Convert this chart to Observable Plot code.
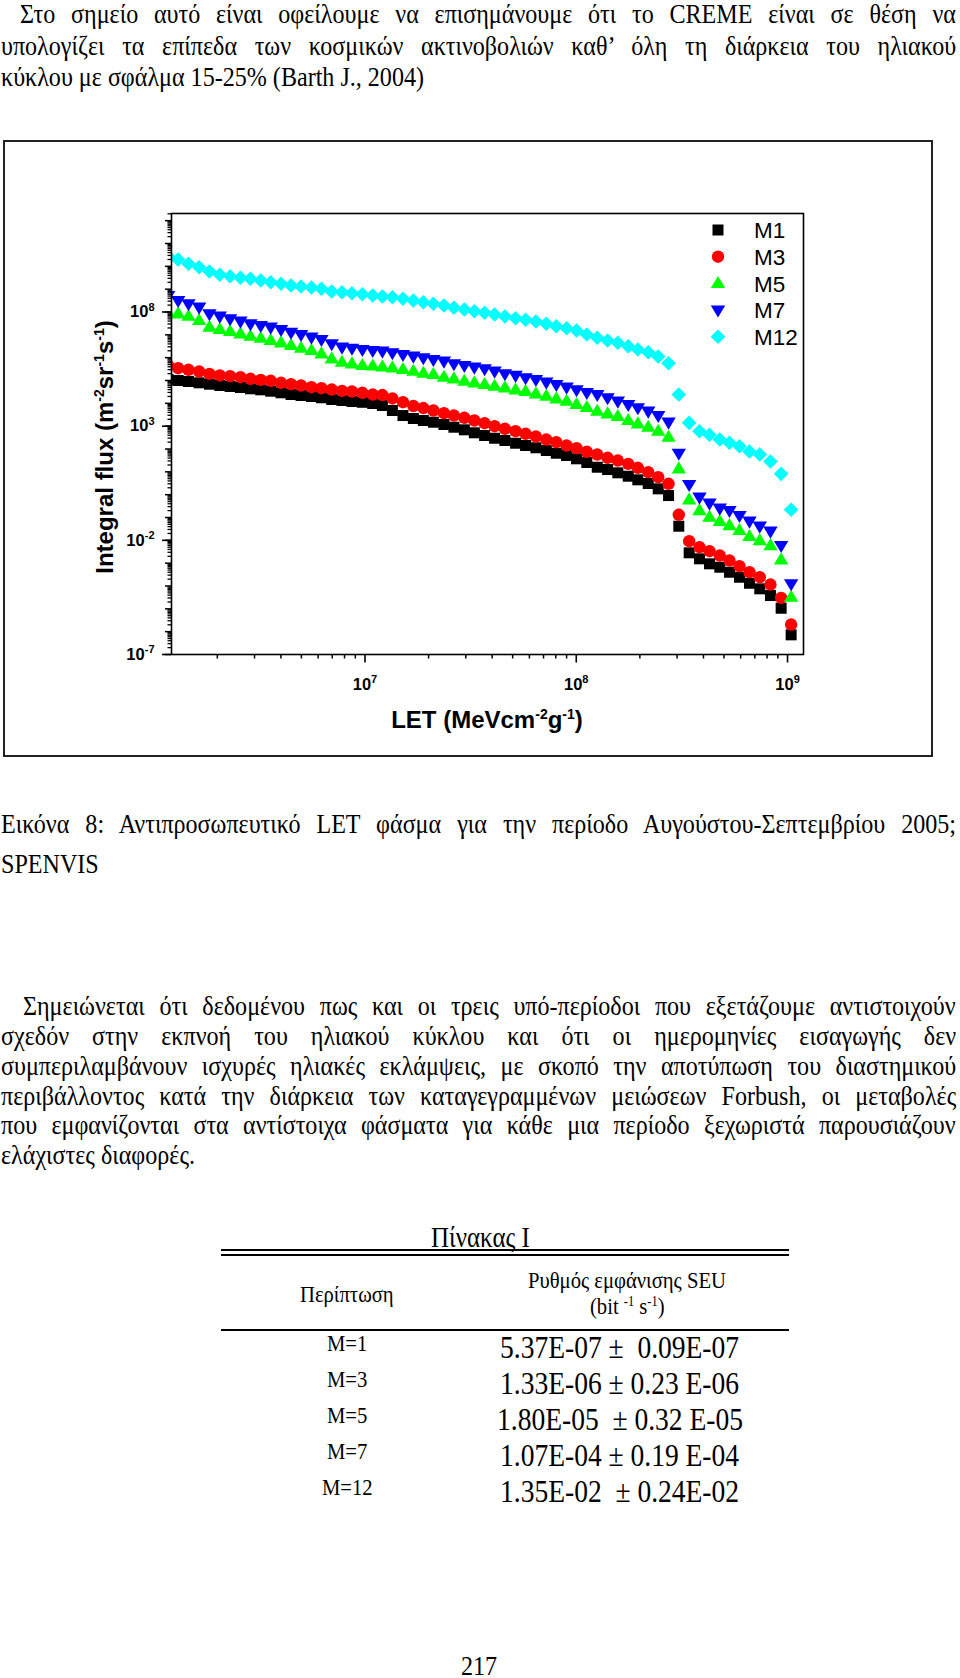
<!DOCTYPE html>
<html><head><meta charset="utf-8">
<script src="https://cdn.jsdelivr.net/npm/d3@7"></script>
<script src="https://cdn.jsdelivr.net/npm/@observablehq/plot@0.6"></script>
<style>
html,body{margin:0;padding:0;background:#fff;}
body{width:960px;height:1678px;position:relative;overflow:hidden;font-family:"Liberation Serif","Times New Roman",serif;color:#000;}
#page{position:absolute;left:0;top:0;width:960px;height:1678px;}
.ln{position:absolute;white-space:nowrap;transform-origin:0 0;color:#000;}
.pre{white-space:pre;}
.rule{position:absolute;background:#000;}
#chart{position:absolute;left:0;top:140px;width:960px;height:617px;}
#frame{position:absolute;left:3px;top:140px;width:930px;height:617px;box-sizing:border-box;border:2px solid #222;pointer-events:none;}
sup{font-size:0.6em;vertical-align:0.55em;line-height:0;}
</style></head><body>
<div id="page"></div>
<div id="chart"></div>
<div id="frame"></div>
<script>
// ---------- data ----------
const LET = [1.17e6,1.305e6,1.461e6,1.64e6,1.836e6,2.055e6,2.299e6,2.574e6,2.871e6,3.211e6,3.58e6,4.005e6,4.467e6,4.982e6,5.579e6,6.22e6,6.959e6,7.783e6,8.679e6,9.721e6,1.088e7,1.209e7,1.348e7,1.513e7,1.694e7,1.889e7,2.107e7,2.364e7,2.636e7,2.953e7,3.293e7,3.683e7,4.107e7,4.596e7,5.162e7,5.757e7,6.441e7,7.214e7,8.044e7,9.0e7,1.003e8,1.122e8,1.257e8,1.407e8,1.573e8,1.762e8,1.956e8,2.191e8,2.443e8,2.734e8,3.057e8,3.423e8,3.831e8,4.272e8,4.778e8,5.311e8,5.923e8,6.605e8,7.388e8,8.301e8,9.327e8,1.04e9];
const M1 = [1.10e5,1.00e5,9.04e4,7.92e4,6.89e4,6.04e4,5.46e4,4.93e4,4.33e4,3.91e4,3.40e4,2.89e4,2.43e4,2.20e4,1.99e4,1.75e4,1.47e4,1.33e4,1.20e4,1.11e4,9.82e3,8.02e3,4.85e3,2.92e3,2.16e3,1.77e3,1.49e3,1.18e3,900,692,512,389,296,235,179,142,113,85.7,65.3,51.8,37.2,25.6,15.9,12.6,9.06,6.43,4.47,3.08,1.80,0.916,0.0415,0.00284,0.00155,9.35e-4,6.64e-4,4.01e-4,2.42e-4,1.32e-4,7.52e-5,3.82e-5,1.06e-5,7.26e-7];
const M3 = [4.54e5,3.45e5,2.94e5,2.48e5,1.96e5,1.66e5,1.54e5,1.39e5,1.19e5,1.07e5,9.69e4,7.92e4,6.89e4,6.04e4,5.08e4,4.59e4,4.03e4,3.53e4,3.30e4,2.89e4,2.43e4,2.31e4,1.63e4,1.12e4,7.64e3,6.24e3,4.85e3,3.69e3,2.92e3,2.32e3,1.77e3,1.35e3,995,766,601,462,352,260,198,142,108,75.3,57.3,41.1,31.3,22.4,15.0,9.62,5.81,2.99,0.131,0.00914,0.00499,0.00333,0.00216,0.0013,7.35e-4,4.01e-4,2.42e-4,1.16e-4,3.03e-5,2.05e-6];
const M5 = [9.23e7,8.34e7,6.55e7,4.24e7,2.16e7,1.71e7,1.40e7,1.11e7,8.71e6,7.12e6,5.65e6,4.48e6,3.41e6,2.59e6,2.06e6,1.48e6,8.91e5,6.32e5,5.38e5,4.54e5,4.31e5,3.90e5,3.60e5,3.03e5,2.55e5,2.08e5,1.83e5,1.39e5,1.19e5,9.31e4,7.92e4,6.67e4,5.62e4,4.79e4,3.91e4,3.30e4,2.61e4,2.05e4,1.58e4,1.24e4,8.87e3,6.56e3,4.52e3,3.48e3,2.65e3,1.77e3,1.27e3,900,601,328,13.6,0.594,0.202,0.103,0.0667,0.0445,0.0269,0.0147,0.0098,0.00592,0.0014,3.22e-5];
const M7 = [5.28e8,3.19e8,2.29e8,1.62e8,8.34e7,6.55e7,5.04e7,3.96e7,3.04e7,2.56e7,2.16e7,1.71e7,1.30e7,1.03e7,7.87e6,6.24e6,4.05e6,2.87e6,2.59e6,2.28e6,2.06e6,1.92e6,1.63e6,1.37e6,1.16e6,9.86e5,8.30e5,7.00e5,5.38e5,4.54e5,3.82e5,3.25e5,2.55e5,1.96e5,1.66e5,1.31e5,1.10e5,8.41e4,6.67e4,5.08e4,3.91e4,2.98e4,2.43e4,1.75e4,1.24e4,8.87e3,6.36e3,4.52e3,2.92e3,1.49e3,65.3,2.78,0.773,0.422,0.255,0.202,0.122,0.0687,0.0415,0.0251,0.00592,1.24e-4];
const M12 = [2.70e10,2.00e10,1.29e10,9.16e9,5.94e9,4.26e9,3.70e9,3.15e9,2.84e9,2.40e9,2.02e9,1.72e9,1.45e9,1.31e9,1.18e9,1.04e9,7.91e8,7.36e8,6.65e8,6.03e8,5.28e8,4.78e8,4.45e8,3.78e8,3.19e8,2.69e8,2.29e8,1.93e8,1.53e8,1.29e8,1.08e8,9.23e7,7.77e7,6.35e7,5.35e7,4.55e7,3.84e7,3.04e7,2.39e7,1.95e7,1.55e7,1.03e7,7.41e6,5.65e6,4.48e6,3.18e6,2.28e6,1.73e6,1.12e6,5.72e5,2.43e4,1.40e3,601,418,260,187,132,77.6,57.3,28.3,8.18,0.217];
const seriesNames = ["M1","M3","M5","M7","M12"];
const xMajorTicks = [1e7, 1e8, 1e9];
const xTickLabels = ["10^7","10^8","10^9"];
const yMajorTicks = [1e-7, 1e-2, 1e3, 1e8];
const yTickLabels = ["10^-7","10^-2","10^3","10^8"];
const xLabelParts = [["LET (MeVcm",0],["-2",1],["g",0],["-1",1],[")",0]];
const yLabelParts = [["Integral flux (m",0],["-2",1],["sr",0],["-1",1],["s",0],["-1",1],[")",0]];

const tableCases = ["M=1","M=3","M=5","M=7","M=12"];
const tableRates = ["5.37E-07 \u00b1  0.09E-07","1.33E-06 \u00b1 0.23 E-06","1.80E-05  \u00b1 0.32 E-05","1.07E-04 \u00b1 0.19 E-04","1.35E-02  \u00b1 0.24E-02"];

// ---------- symbols and styles ----------
const sq = {draw(c){ c.rect(-5.5,-5.5,11,11); }};
const circ = {draw(c){ c.moveTo(6.2,0); c.arc(0,0,6.2,0,2*Math.PI); }};
const up = {draw(c){ c.moveTo(0,-7.5); c.lineTo(7.2,4.6); c.lineTo(-7.2,4.6); c.closePath(); }};
const down = {draw(c){ c.moveTo(0,7.5); c.lineTo(7.2,-4.6); c.lineTo(-7.2,-4.6); c.closePath(); }};
const dia = {draw(c){ c.moveTo(0,-7.3); c.lineTo(7.3,0); c.lineTo(0,7.3); c.lineTo(-7.3,0); c.closePath(); }};
const seriesValues = [M1, M3, M5, M7, M12];
const seriesColors = ["#000000","#ff0000","#00ff00","#0000ff","#00ffff"];
const seriesSymbols = [sq, circ, up, down, dia];

const xDomain = [1.214e6, 1.19e9];
const yDomain = [1e-7, 2.06e12];
const xMinorTicks = [];
for (const e of [6,7,8]) for (let m = 2; m <= 9; m++) xMinorTicks.push(m * Math.pow(10, e));
const yDecadeTicks = [];
const yMinorTicks = [];
for (let e = -7; e <= 12; e++) {
  yDecadeTicks.push(Math.pow(10, e));
  for (let m = 2; m <= 9; m++) { const v = m * Math.pow(10, e); if (v <= yDomain[1]) yMinorTicks.push(v); }
}

const SANS = "'Liberation Sans', Arial, Helvetica, sans-serif";
const marks = [];
marks.push(Plot.axisY({ticks: yMinorTicks, tickSize: 3.5, tickFormat: () => "", strokeWidth: 1.3, label: null}));
marks.push(Plot.axisY({ticks: yDecadeTicks, tickSize: 6, tickFormat: () => "", strokeWidth: 1.5, label: null}));
marks.push(Plot.axisY({ticks: yMajorTicks, tickSize: 9, tickPadding: 8, strokeWidth: 1.6,
  tickFormat: d => yTickLabels[yMajorTicks.indexOf(d)], fontSize: 16.5, fontWeight: "bold", label: null}));
marks.push(Plot.axisX({ticks: xMinorTicks, tickSize: 4.5, tickFormat: () => "", strokeWidth: 1.5, label: null}));
marks.push(Plot.axisX({ticks: xMajorTicks, tickSize: 8.5, tickPadding: 15, strokeWidth: 1.6,
  tickFormat: d => xTickLabels[xMajorTicks.indexOf(d)], fontSize: 16.5, fontWeight: "bold", label: null}));
seriesNames.forEach((name, k) => {
  const rows = LET.map((x, i) => ({x, y: seriesValues[k][i], series: name}));
  marks.push(Plot.dot(rows, {x: "x", y: "y", fill: seriesColors[k], symbol: seriesSymbols[k], r: 6, clip: true}));
});
marks.push(Plot.frame({stroke: "#000", strokeWidth: 1.6}));

const plot = Plot.plot({
  width: 960, height: 617,
  marginLeft: 171, marginRight: 157, marginTop: 73, marginBottom: 103,
  x: {type: "log", domain: xDomain},
  y: {type: "log", domain: yDomain},
  style: {background: "transparent", fontFamily: SANS, color: "#000", overflow: "visible"},
  marks
});
document.getElementById("chart").appendChild(plot);

const NS = "http://www.w3.org/2000/svg";
function supTicks(sel, supSize, rise) {
  plot.querySelectorAll(sel + " text").forEach(t => {
    const s = t.textContent;
    if (!s.includes("^")) return;
    const [b, e] = s.split("^");
    t.textContent = "";
    const a = document.createElementNS(NS, "tspan"); a.textContent = b; t.appendChild(a);
    const p = document.createElementNS(NS, "tspan");
    p.setAttribute("dy", -rise); p.setAttribute("font-size", supSize); p.textContent = e; t.appendChild(p);
  });
}
supTicks('g[aria-label="x-axis tick label"]', 11, 6.5);
supTicks('g[aria-label="y-axis tick label"]', 11, 6.5);

const svg = d3.select(plot);
function richText(g, parts, size, supSize, rise) {
  let up = false;
  parts.forEach(([s, isSup]) => {
    const t = g.append("tspan").text(s);
    if (isSup && !up) { t.attr("dy", -rise).attr("font-size", supSize); up = true; }
    else if (isSup) { t.attr("font-size", supSize); }
    else if (up) { t.attr("dy", rise); up = false; }
  });
}
const yl = svg.append("text").attr("transform", "translate(113,307) rotate(-90)")
  .attr("text-anchor", "middle").attr("font-family", SANS).attr("font-size", 24).attr("font-weight", "bold").attr("fill", "#000");
richText(yl, yLabelParts, 24, 14, 9);
const xl = svg.append("text").attr("x", 487).attr("y", 588)
  .attr("text-anchor", "middle").attr("font-family", SANS).attr("font-size", 24).attr("font-weight", "bold").attr("fill", "#000");
richText(xl, xLabelParts, 24, 14, 9);

// legend inside the frame
const lg = svg.append("g").attr("font-family", SANS).attr("font-size", 22.5).attr("text-anchor", "start");
seriesNames.forEach((name, k) => {
  const y = 90 + k * 26.7;
  const p = d3.path(); seriesSymbols[k].draw(p);
  lg.append("path").attr("d", p.toString()).attr("fill", seriesColors[k]).attr("transform", `translate(718,${y})`);
  lg.append("text").attr("x", 754).attr("y", y).attr("dy", "0.36em").attr("text-anchor", "start").attr("fill", "#000").text(name);
});

// ---------- document text ----------
const SX = 0.86;
const page = document.getElementById("page");
function place(html, o) {
  const d = document.createElement("div");
  d.className = "ln" + (o.pre ? " pre" : "");
  d.style.fontSize = o.size + "px";
  d.style.lineHeight = (o.size * 1.2) + "px";
  d.innerHTML = html;
  page.appendChild(d);
  const nat = d.offsetWidth;
  if (o.justify) {
    const n = d.textContent.trim().split(/\s+/).length - 1;
    d.style.wordSpacing = ((o.width / SX - nat) / n) + "px";
    d.style.left = o.left + "px";
  } else if (o.cx != null) {
    d.style.left = (o.cx - nat * SX / 2) + "px";
  } else {
    d.style.left = o.left + "px";
  }
  d.style.top = (o.cy - 0.6375 * o.size) + "px";
  d.style.transform = `scaleX(${SX})`;
  return d;
}
const R = 956;
const p1 = [
  ["Στο σημείο αυτό είναι οφείλουμε να επισημάνουμε ότι το CREME είναι σε θέση να", 20, true],
  ["υπολογίζει τα επίπεδα των κοσμικών ακτινοβολιών καθ’ όλη τη διάρκεια του ηλιακού", 1, true],
  ["κύκλου με σφάλμα 15-25% (Barth J., 2004)", 1, false]
];
p1.forEach(([t, l, j], i) => place(t, {size: 28, left: l, width: R - l, justify: j, cy: 15 + i * 31.5}));
place("Εικόνα 8: Αντιπροσωπευτικό LET φάσμα για την περίοδο Αυγούστου-Σεπτεμβρίου 2005;", {size: 28, left: 1, width: R - 1, justify: true, cy: 825});
place("SPENVIS", {size: 28, left: 1, cy: 865});
const p2 = [
  ["Σημειώνεται  ότι δεδομένου πως και οι τρεις υπό-περίοδοι που εξετάζουμε αντιστοιχούν", 23, true],
  ["σχεδόν στην εκπνοή του ηλιακού κύκλου και ότι οι ημερομηνίες εισαγωγής δεν", 1, true],
  ["συμπεριλαμβάνουν ισχυρές ηλιακές εκλάμψεις, με σκοπό την αποτύπωση του διαστημικού", 1, true],
  ["περιβάλλοντος κατά την διάρκεια των καταγεγραμμένων μειώσεων Forbush, οι μεταβολές", 1, true],
  ["που εμφανίζονται στα αντίστοιχα φάσματα για κάθε μια περίοδο ξεχωριστά παρουσιάζουν", 1, true],
  ["ελάχιστες διαφορές.", 1, false]
];
p2.forEach(([t, l, j], i) => place(t, {size: 28, left: l, width: R - l, justify: j, cy: 1007 + i * 29.8}));

// table
function rule(top, h) {
  const r = document.createElement("div"); r.className = "rule";
  r.style.left = "221px"; r.style.width = "568px"; r.style.top = top + "px"; r.style.height = h + "px";
  page.appendChild(r);
}
place("Πίνακας Ι", {size: 29, cx: 480, cy: 1238});
rule(1249, 2); rule(1254, 2);
place("Περίπτωση", {size: 24, cx: 347, cy: 1295});
place("Ρυθμός εμφάνισης SEU", {size: 24, cx: 627, cy: 1281});
place("(bit <sup>-1</sup> s<sup>-1</sup>)", {size: 24, cx: 627, cy: 1307});
rule(1329, 2);
tableCases.forEach((c, i) => {
  const cy = [1346, 1382, 1418, 1454, 1490][i];
  place(c, {size: 24, cx: 347, cy: cy - 2});
  place(tableRates[i], {size: 32, cx: 620, cy: cy + 2, pre: true});
});
place("217", {size: 28, cx: 479, cy: 1667});
</script>
</body></html>
